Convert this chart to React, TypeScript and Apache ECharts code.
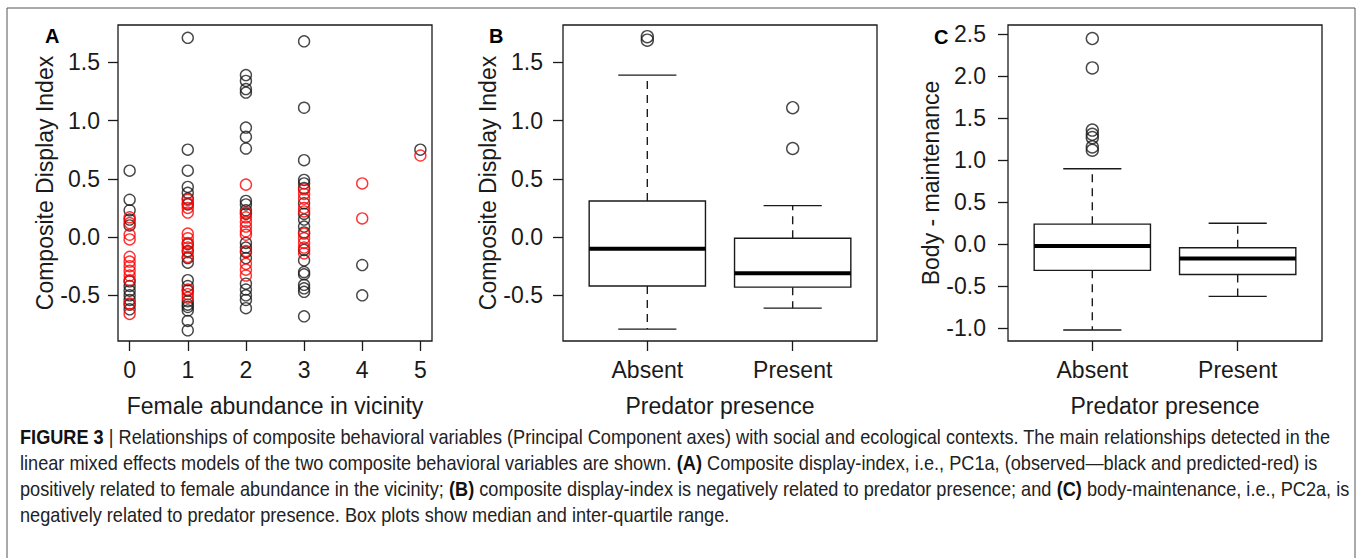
import React, { useEffect, useRef } from "react";
import * as echarts from "echarts";

// ---------- Tick labels / categories ----------
const femaleTicks = [0, 1, 2, 3, 4, 5];
const cdiTicks = [-0.5, 0, 0.5, 1, 1.5];
const bodyTicks = [-1, -0.5, 0, 0.5, 1, 1.5, 2, 2.5];
const predatorCats = ["Absent", "Present"];
const predatorPos = [1, 2];

// ---------- Panel A: observed (black) by female abundance ----------
const obs0 = [0.57, 0.32, 0.23, 0.15, 0.1, -0.38, -0.42, -0.46, -0.5, -0.54, -0.58, -0.62];
const obs1 = [1.71, 0.75, 0.57, 0.43, 0.38, 0.33, 0.28, -0.06, -0.12, -0.18, -0.22, -0.37, -0.42, -0.46, -0.55, -0.58, -0.6, -0.63, -0.72, -0.8];
const obs2 = [1.39, 1.34, 1.27, 1.24, 0.94, 0.86, 0.76, 0.31, 0.28, 0.23, 0.2, -0.05, -0.09, -0.13, -0.18, -0.4, -0.45, -0.5, -0.54, -0.61];
const obs3 = [1.68, 1.11, 0.66, 0.49, 0.46, 0.42, 0.29, 0.2, 0.15, 0.09, 0.04, -0.11, -0.2, -0.3, -0.32, -0.41, -0.44, -0.47, -0.68];
const obs4 = [-0.24, -0.5];
const obs5 = [0.75];

// ---------- Panel A: predicted (red) ----------
const pred0 = [0.17, 0.12, 0.02, -0.02, -0.17, -0.21, -0.25, -0.29, -0.33, -0.37, -0.57, -0.66];
const pred1 = [0.32, 0.29, 0.25, 0.21, 0.03, -0.01, -0.05, -0.09, -0.13, -0.17, -0.45, -0.49, -0.52];
const pred2 = [0.45, 0.21, 0.17, 0.13, 0.09, 0.05, 0.02, -0.12, -0.23, -0.28, -0.33];
const pred3 = [0.41, 0.37, 0.33, 0.25, 0.22, 0.03, -0.01, -0.05, -0.09, -0.14];
const pred4 = [0.46, 0.16];
const pred5 = [0.7];

// ---------- Panel B: composite display index by predator presence ----------
// [min, q1, median, q3, max]
const cdiAbsent = [-0.79, -0.42, -0.1, 0.31, 1.39];
const cdiPresent = [-0.61, -0.43, -0.31, -0.01, 0.27];
const cdiAbsentOut = [1.72, 1.69];
const cdiPresentOut = [1.11, 0.76];

// ---------- Panel C: body maintenance by predator presence ----------
const bodyAbsent = [-1.02, -0.31, -0.02, 0.24, 0.9];
const bodyPresent = [-0.62, -0.36, -0.17, -0.04, 0.25];
const bodyAbsentOut = [2.45, 2.1, 1.36, 1.31, 1.27, 1.16, 1.12];
const bodyPresentOut: number[] = [];

// ---------- Caption ----------
const captionLines = [
  "{b|FIGURE 3} | Relationships of composite behavioral variables (Principal Component axes) with social and ecological contexts. The main relationships detected in the",
  "linear mixed effects models of the two composite behavioral variables are shown. {b|(A)} Composite display-index, i.e., PC1a, (observed\u2014black and predicted-red) is",
  "positively related to female abundance in the vicinity; {b|(B)} composite display-index is negatively related to predator presence; and {b|(C)} body-maintenance, i.e., PC2a, is",
  "negatively related to predator presence. Box plots show median and inter-quartile range.",
];

const FONT = "Liberation Sans, Arial, Helvetica, sans-serif";
const INK = "#1a1a1a";

const pts = (x: number, ys: number[]) => ys.map((y) => [x, y]);

export default function App() {
  const ref = useRef<HTMLDivElement>(null);

  useEffect(() => {
    document.body.style.margin = "0";
    if (!ref.current) return;
    const chart = echarts.init(ref.current, null, { renderer: "svg" });

    const gridTop = 25;
    const gridH = 316;
    const gridW = 314;
    const grids = [
      { left: 118, top: gridTop, width: gridW, height: gridH },
      { left: 563, top: gridTop, width: gridW, height: gridH },
      { left: 1008, top: gridTop, width: gridW, height: gridH },
    ].map((g) => ({ ...g, show: true, borderColor: INK, borderWidth: 1.3, backgroundColor: "transparent", containLabel: false }));

    const labelStyle = { fontFamily: FONT, fontSize: 23, color: INK };
    const nameStyle = { fontFamily: FONT, fontSize: 23, color: INK };
    const tickStyle = { color: INK, width: 1.3 };

    const xAxisBase = (gridIndex: number) => ({
      gridIndex,
      type: "value" as const,
      axisLine: { show: false, onZero: false },
      splitLine: { show: false },
      nameLocation: "middle" as const,
      nameGap: 53,
      nameTextStyle: nameStyle,
    });
    const yAxisBase = (gridIndex: number, gap: number) => ({
      gridIndex,
      type: "value" as const,
      axisLine: { show: false, onZero: false },
      splitLine: { show: false },
      nameLocation: "middle" as const,
      nameGap: gap,
      nameTextStyle: nameStyle,
    });

    const xAxis = [
      {
        ...xAxisBase(0),
        min: -0.2,
        max: 5.2,
        name: "Female abundance in vicinity",
        axisTick: { show: true, customValues: femaleTicks, length: 10, lineStyle: tickStyle },
        axisLabel: { ...labelStyle, margin: 17, customValues: femaleTicks, formatter: (v: number) => String(Math.round(v)) },
      },
      {
        ...xAxisBase(1),
        min: 0.42,
        max: 2.58,
        name: "Predator presence",
        axisTick: { show: true, customValues: predatorPos, length: 10, lineStyle: tickStyle },
        axisLabel: { ...labelStyle, margin: 17, customValues: predatorPos, formatter: (v: number) => predatorCats[Math.round(v) - 1] },
      },
      {
        ...xAxisBase(2),
        min: 0.42,
        max: 2.58,
        name: "Predator presence",
        axisTick: { show: true, customValues: predatorPos, length: 10, lineStyle: tickStyle },
        axisLabel: { ...labelStyle, margin: 17, customValues: predatorPos, formatter: (v: number) => predatorCats[Math.round(v) - 1] },
      },
    ];

    const yAxis = [
      {
        ...yAxisBase(0, 49),
        min: -0.892,
        max: 1.82,
        name: "Composite Display Index",
        axisTick: { show: true, customValues: cdiTicks, length: 10, lineStyle: tickStyle },
        axisLabel: { ...labelStyle, margin: 18, customValues: cdiTicks, formatter: (v: number) => v.toFixed(1) },
      },
      {
        ...yAxisBase(1, 48),
        min: -0.892,
        max: 1.82,
        name: "Composite Display Index",
        axisTick: { show: true, customValues: cdiTicks, length: 10, lineStyle: tickStyle },
        axisLabel: { ...labelStyle, margin: 20, customValues: cdiTicks, formatter: (v: number) => v.toFixed(1) },
      },
      {
        ...yAxisBase(2, 46),
        min: -1.151,
        max: 2.611,
        name: "Body - maintenance",
        axisTick: { show: true, customValues: bodyTicks, length: 10, lineStyle: tickStyle },
        axisLabel: { ...labelStyle, margin: 22, customValues: bodyTicks, formatter: (v: number) => v.toFixed(1) },
      },
    ];

    const circle = (color: string, size: number) => ({
      symbol: "circle",
      symbolSize: size,
      itemStyle: { color: "rgba(0,0,0,0)", borderColor: color, borderWidth: 1.4 },
      silent: true,
    });

    const obsData = [
      ...pts(0, obs0), ...pts(1, obs1), ...pts(2, obs2), ...pts(3, obs3), ...pts(4, obs4), ...pts(5, obs5),
    ];
    const predData = [
      ...pts(0, pred0), ...pts(1, pred1), ...pts(2, pred2), ...pts(3, pred3), ...pts(4, pred4), ...pts(5, pred5),
    ];

    const boxRender = (params: any, api: any) => {
      const x = api.value(0);
      const lo = api.value(1);
      const q1 = api.value(2);
      const md = api.value(3);
      const q3 = api.value(4);
      const hi = api.value(5);
      const half = 0.4;
      const cap = 0.2;
      const tl = api.coord([x - half, q3]);
      const br = api.coord([x + half, q1]);
      const mL = api.coord([x - half, md]);
      const mR = api.coord([x + half, md]);
      const c = api.coord([x, 0]);
      const yHi = api.coord([x, hi])[1];
      const yLo = api.coord([x, lo])[1];
      const capL = api.coord([x - cap, 0])[0];
      const capR = api.coord([x + cap, 0])[0];
      const stroke = { stroke: INK, lineWidth: 1.4, fill: "none" };
      const dashed = { stroke: INK, lineWidth: 1.4, lineDash: [8, 6] };
      return {
        type: "group",
        children: [
          { type: "line", shape: { x1: c[0], y1: tl[1], x2: c[0], y2: yHi }, style: dashed },
          { type: "line", shape: { x1: c[0], y1: br[1], x2: c[0], y2: yLo }, style: dashed },
          { type: "line", shape: { x1: capL, y1: yHi, x2: capR, y2: yHi }, style: stroke },
          { type: "line", shape: { x1: capL, y1: yLo, x2: capR, y2: yLo }, style: stroke },
          { type: "rect", shape: { x: tl[0], y: tl[1], width: br[0] - tl[0], height: br[1] - tl[1] }, style: { stroke: INK, lineWidth: 1.4, fill: "#fff" } },
          { type: "line", shape: { x1: mL[0], y1: mL[1], x2: mR[0], y2: mR[1] }, style: { stroke: "#000", lineWidth: 4 } },
        ],
      };
    };

    const capSize = 20;
    const option: any = {
      animation: false,
      backgroundColor: "#fff",
      grid: grids,
      xAxis,
      yAxis,
      series: [
        { type: "scatter", xAxisIndex: 0, yAxisIndex: 0, data: obsData, ...circle(INK, 11) },
        { type: "scatter", xAxisIndex: 0, yAxisIndex: 0, data: predData, ...circle("#ff0000", 11) },
        {
          type: "custom", xAxisIndex: 1, yAxisIndex: 1, silent: true, renderItem: boxRender,
          data: [[1, ...cdiAbsent], [2, ...cdiPresent]],
        },
        {
          type: "scatter", xAxisIndex: 1, yAxisIndex: 1,
          data: [...pts(1, cdiAbsentOut), ...pts(2, cdiPresentOut)], ...circle(INK, 12),
        },
        {
          type: "custom", xAxisIndex: 2, yAxisIndex: 2, silent: true, renderItem: boxRender,
          data: [[1, ...bodyAbsent], [2, ...bodyPresent]],
        },
        {
          type: "scatter", xAxisIndex: 2, yAxisIndex: 2,
          data: [...pts(1, bodyAbsentOut), ...pts(2, bodyPresentOut)], ...circle(INK, 12),
        },
      ],
      graphic: [
        { type: "rect", shape: { x: 7, y: 8, width: 1348, height: 700 }, style: { fill: "none", stroke: "#555", lineWidth: 1 }, silent: true },
        { type: "text", x: 45, y: 26, style: { text: "A", font: `bold 20px ${FONT}`, fill: "#000", verticalAlign: "top" } },
        { type: "text", x: 489, y: 26, style: { text: "B", font: `bold 20px ${FONT}`, fill: "#000", verticalAlign: "top" } },
        { type: "text", x: 934, y: 27, style: { text: "C", font: `bold 20px ${FONT}`, fill: "#000", verticalAlign: "top" } },
        ...captionLines.map((t, i) => ({
          type: "text",
          x: 20,
          y: 437 + i * 26,
          scaleX: 0.908,
          style: {
            text: t,
            fontFamily: FONT,
            fontSize: capSize,
            fill: "#222",
            verticalAlign: "middle",
            rich: { b: { fontFamily: FONT, fontSize: capSize, fontWeight: "bold", fill: "#111" } },
          },
        })),
      ],
    };

    chart.setOption(option);
    return () => chart.dispose();
  }, []);

  return <div ref={ref} style={{ width: 1357, height: 558 }} />;
}
